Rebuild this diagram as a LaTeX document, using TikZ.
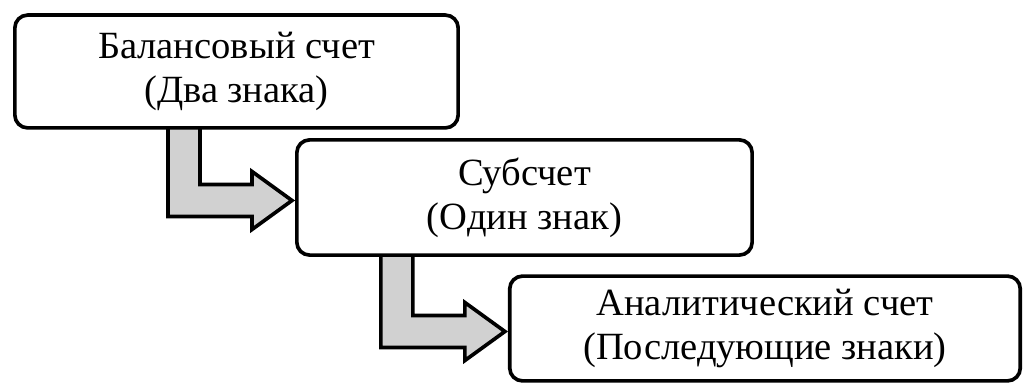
\documentclass[tikz,border=0pt]{standalone}
\usepackage{fontspec}
\setmainfont{Liberation Serif}
\usetikzlibrary{calc,backgrounds}
\tikzset{%
	account/.style   = {draw, rectangle, rounded corners=0.16cm, line width=1.3pt, fill=white, align=center, font=\fontsize{13.7}{15.6}\selectfont},
	flowarrow/.style = {draw, line width=1.3pt, fill=black!18, line join=miter},
}

\begin{document}
\begin{tikzpicture}[x=0.0125cm,y=0.0125cm]
	\useasboundingbox (0,0) rectangle (1023,383);
	\node[account, minimum width=5.54cm, minimum height=1.41cm] (bal) at (236.5,311.5) {Балансовый счет\\(Два знака)};
	\node[account, minimum width=5.69cm, minimum height=1.44cm] (sub) at (524.5,185.5) {Субсчет\\(Один знак)};
	\node[account, minimum width=6.38cm, minimum height=1.31cm] (ana) at (765,54.5) {Аналитический счет\\(Последующие знаки)};
	
	% block arrows between the levels
	\begin{scope}[on background layer]
	\foreach \from/\to in {bal/sub,sub/ana}{
		\coordinate (tip) at ($(\to.west)+(-3,-3)$);
		\coordinate (inner) at ($(tip)+(-92,0)$);
		\coordinate (outer) at ($(tip)+(-124,0)$);
		\draw[flowarrow] (tip) -- ++(-40,29) -- ++(0,-13) -- ($(inner)+(0,16)$) -- ($(inner |- \from.south)+(0,6)$) -- ($(outer |- \from.south)+(0,6)$) -- ($(outer)+(0,-16)$) -- ($(tip)+(-40,-16)$) -- ++(0,-13) -- cycle;
	}
	\end{scope}
\end{tikzpicture}
\end{document}
